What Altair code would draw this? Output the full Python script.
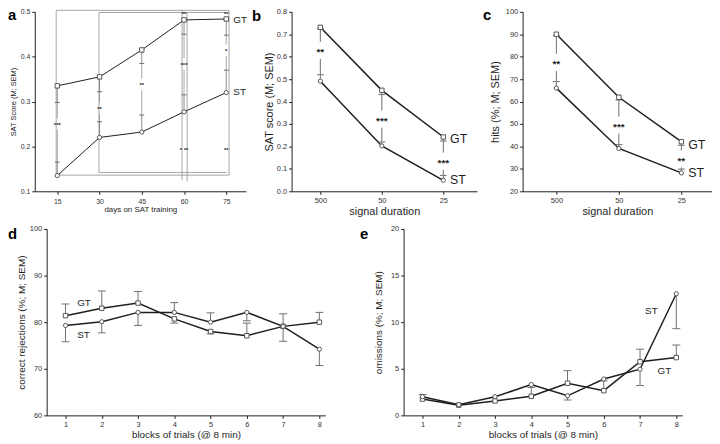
import altair as alt
import pandas as pd

FONT = "Liberation Sans"
INK = "#1e1e1e"
MARK = "#555555"
ERR = "#707070"
LIGHT = "#909090"

# ---------------- panel a : SAT score across training days ----------------
a_days = [15, 30, 45, 60, 75]
a_gt = [0.335, 0.355, 0.415, 0.482, 0.484]
a_st = [0.135, 0.220, 0.232, 0.277, 0.320]
a_gt_err = [0.298, 0.322, 0.385, 0.450, 0.448]
a_st_err = [0.165, 0.255, 0.270, 0.315, 0.370]
a_star_txt = ["***", "**", "**", "***", "*"]
a_star_y = [0.250, 0.285, 0.338, 0.384, 0.414]
a_extra_x = [60, 75, 60, 75]
a_extra_y = [0.497, 0.497, 0.194, 0.194]
a_extra_txt = ["**", "**", "* **", "**"]
# comparison bracket lines (x1, x2, y1, y2)
a_br_x1 = [14.6, 14.6, 14.6, 76.0, 29.8, 29.8, 29.8, 59.3, 61.1]
a_br_x2 = [14.6, 76.0, 76.0, 76.0, 29.8, 75.1, 75.1, 59.3, 61.1]
a_br_y1 = [0.136, 0.5033, 0.136, 0.136, 0.142, 0.4985, 0.142, 0.125, 0.122]
a_br_y2 = [0.5033, 0.5033, 0.136, 0.5033, 0.4985, 0.4985, 0.142, 0.5033, 0.4985]

# ---------------- panels b, c : signal duration ----------------
dur_labels = ["500", "50", "25"]
dur_pos = [0, 1, 2]
b_gt = [0.731, 0.450, 0.242]
b_st = [0.491, 0.202, 0.049]
b_gt_err = [0.725, 0.431, 0.224]
b_st_err = [0.520, 0.220, 0.071]
b_star_txt = ["**", "***", "***"]
b_star_y = [0.628, 0.322, 0.134]

c_gt = [90.0, 61.9, 42.1]
c_st = [66.0, 39.1, 28.2]
c_gt_err = [89.5, 60.7, 40.5]
c_st_err = [68.9, 40.8, 29.9]
c_star_txt = ["**", "***", "**"]
c_star_y = [77.5, 49.5, 34.4]

# ---------------- panels d, e : blocks of trials ----------------
blocks = [1, 2, 3, 4, 5, 6, 7, 8]
d_gt = [81.4, 83.0, 84.1, 80.7, 78.0, 77.1, 79.1, 80.0]
d_st = [79.3, 80.1, 82.1, 82.1, 80.0, 82.1, 79.1, 74.2]
d_gt_err = [83.9, 86.7, 86.6, 79.8, 77.5, 79.8, 81.8, 82.1]
d_st_err = [75.8, 77.7, 79.3, 84.2, 82.0, 80.3, 75.9, 70.7]

e_gt = [1.75, 1.10, 1.55, 2.05, 3.45, 2.65, 5.75, 6.20]
e_st = [2.00, 1.15, 2.00, 3.30, 2.10, 3.90, 4.95, 13.05]
e_gt_err = [1.75, 1.10, 1.55, 3.00, 4.80, 3.70, 7.10, 7.55]
e_st_err = [2.23, 1.15, 2.00, 3.30, 1.65, 3.90, 3.20, 9.30]


def axis(title, values, lab_fs, title_fs, tp, lp=2, fmt=None, label_expr=None):
    kw = dict(title=title, values=values, labelFont=FONT, labelFontSize=lab_fs,
              labelColor="#333333", titleFont=FONT, titleFontSize=title_fs,
              titleFontWeight="normal", titleColor=INK, titlePadding=tp,
              labelPadding=lp, tickSize=3, tickColor=INK, tickWidth=1,
              domainColor=INK, domainWidth=1, grid=False, labelFlush=False)
    if fmt:
        kw["format"] = fmt
    if label_expr:
        kw["labelExpr"] = label_expr
    return alt.Axis(**kw)


def panel(xv, gt, st, gt_err, st_err, X, Y, w, h, letter, ldx, ldy,
          star_txt=(), star_y=(), gap=0.0, extra=None, brackets=None,
          lab_x=0.0, lab_gt=0.0, lab_st=0.0, lab_fs=11, line_w=1.5,
          sq=36, ci=30, cap=7, star_fs=10, star_dy=2, conn=ERR, err_w=1.0):
    n = len(xv)
    pts = pd.DataFrame({"x": list(xv) * 2, "y": list(gt) + list(st),
                        "g": ["GT"] * n + ["ST"] * n})
    err = []
    for xi, a, b in zip(list(xv) * 2, list(gt) + list(st), list(gt_err) + list(st_err)):
        if a != b:
            err.append((xi, xi, a, b))
    conn_segs = []
    for i, sy in enumerate(star_y):
        conn_segs.append((xv[i], xv[i], gt_err[i], sy + gap))
        conn_segs.append((xv[i], xv[i], sy - gap, st_err[i]))
    if brackets:
        conn_segs += brackets
    cols = ["x", "x2", "y", "y2"]
    layers = []
    if conn_segs:
        layers.append(alt.Chart(pd.DataFrame(conn_segs, columns=cols))
                      .mark_rule(color=conn, strokeWidth=err_w)
                      .encode(x=X, x2="x2:Q", y=Y, y2="y2:Q"))
    layers.append(alt.Chart(pts).mark_line(color=INK, strokeWidth=line_w)
                  .encode(x=X, y=Y, detail="g:N"))
    if err:
        edf = pd.DataFrame(err, columns=cols)
        layers.append(alt.Chart(edf).mark_rule(color=ERR, strokeWidth=err_w)
                      .encode(x=X, x2="x2:Q", y=Y, y2="y2:Q"))
        cdf = pd.DataFrame({"x": edf["x"], "y": edf["y2"]})
        layers.append(alt.Chart(cdf).mark_tick(orient="horizontal", size=cap,
                                               thickness=1, color=ERR, opacity=1)
                      .encode(x=X, y=Y))
    layers.append(alt.Chart(pts).mark_point(filled=True, fill="white", stroke=MARK,
                                            strokeWidth=1, opacity=1, fillOpacity=1)
                  .encode(x=X, y=Y,
                          shape=alt.Shape("g:N", scale=alt.Scale(domain=["GT", "ST"], range=["square", "circle"]), legend=None),
                          size=alt.Size("g:O", scale=alt.Scale(domain=["GT", "ST"], range=[sq, ci]), legend=None)))
    stars = pd.DataFrame({"x": list(xv)[:len(star_y)], "y": list(star_y), "t": list(star_txt)})
    if extra is not None:
        stars = pd.concat([stars, extra], ignore_index=True)
    if len(stars):
        layers.append(alt.Chart(stars).mark_text(font=FONT, fontSize=star_fs, fontWeight="bold",
                                                 color=INK, fill=INK, baseline="middle", dy=star_dy)
                      .encode(x=X, y=Y, text="t:N"))
    labs = pd.DataFrame({"x": lab_x if isinstance(lab_x, list) else [lab_x, lab_x],
                         "y": [lab_gt, lab_st], "t": ["GT", "ST"]})
    layers.append(alt.Chart(labs).mark_text(font=FONT, fontSize=lab_fs, color=INK,
                                            align="left", baseline="middle")
                  .encode(x=X, y=Y, text="t:N"))
    title = alt.TitleParams(letter, anchor="start", frame="group", orient="top",
                            fontSize=15, fontWeight="bold", font=FONT, color="#000000",
                            dx=ldx, dy=ldy, offset=0, baseline="alphabetic")
    return alt.layer(*layers).properties(width=w, height=h, title=title)


TOP_H = 181
BOT_H = 188

# ---- a
Xa = alt.X("x:Q", scale=alt.Scale(domain=[7, 82], nice=False, zero=False),
           axis=axis("days on SAT training", a_days, 7, 8, 1, lp=3))
Ya = alt.Y("y:Q", scale=alt.Scale(domain=[0.1, 0.5], nice=False, zero=False),
           axis=axis("SAT Score (M; SEM)", [0.1, 0.2, 0.3, 0.4, 0.5], 7, 7.5, 3, fmt=".1f"))
a_extra = pd.DataFrame({"x": a_extra_x, "y": a_extra_y, "t": a_extra_txt})
a_br = list(zip(a_br_x1, a_br_x2, a_br_y1, a_br_y2))
pa = panel(a_days, a_gt, a_st, a_gt_err, a_st_err, Xa, Ya, 213, TOP_H, "a", -27, 27,
           star_txt=a_star_txt, star_y=a_star_y, gap=0.013, extra=a_extra, brackets=a_br,
           lab_x=77.5, lab_gt=0.4824, lab_st=0.322, lab_fs=10, line_w=1.0, sq=20, ci=18,
           cap=5, star_fs=6, star_dy=1, conn=LIGHT, err_w=0.8)

dur_expr = "[" + ",".join("'" + s + "'" for s in dur_labels) + "][datum.value]"

# ---- b
Xb = alt.X("x:Q", scale=alt.Scale(domain=[-0.468, 2.548], nice=False, zero=False),
           axis=axis("signal duration", dur_pos, 7.5, 11, 2.3, label_expr=dur_expr))
Yb = alt.Y("y:Q", scale=alt.Scale(domain=[0, 0.8], nice=False),
           axis=axis("SAT score (M; SEM)", [0, 0.1, 0.2, 0.3, 0.4, 0.5, 0.6, 0.7, 0.8], 7.5, 11, 2, fmt=".1f"))
pb = panel(dur_pos, b_gt, b_st, b_gt_err, b_st_err, Xb, Yb, 187, TOP_H, "b", -40, 28,
           star_txt=b_star_txt, star_y=b_star_y, gap=0.038,
           lab_x=2.11, lab_gt=0.235, lab_st=0.049, lab_fs=12.5)

# ---- c
Xc = alt.X("x:Q", scale=alt.Scale(domain=[-0.54, 2.49], nice=False, zero=False),
           axis=axis("signal duration", dur_pos, 7.5, 11, 2.3, label_expr=dur_expr))
Yc = alt.Y("y:Q", scale=alt.Scale(domain=[20, 100], nice=False, zero=False),
           axis=axis("hits (%; M; SEM)", [20, 30, 40, 50, 60, 70, 80, 90, 100], 7.5, 11, 5))
pc = panel(dur_pos, c_gt, c_st, c_gt_err, c_st_err, Xc, Yc, 191, TOP_H, "c", -40, 27,
           star_txt=c_star_txt, star_y=c_star_y, gap=3.8,
           lab_x=2.11, lab_gt=40.6, lab_st=28.1, lab_fs=12.5)

# ---- d
Xd = alt.X("x:Q", scale=alt.Scale(domain=[0.48, 8.164], nice=False, zero=False),
           axis=axis("blocks of trials (@ 8 min)", blocks, 7.5, 10, 2.2))
Yd = alt.Y("y:Q", scale=alt.Scale(domain=[60, 100], nice=False, zero=False),
           axis=axis("correct rejections (%; M; SEM)", [60, 70, 80, 90, 100], 7.5, 10, 2.5))
pd_ = panel(blocks, d_gt, d_st, d_gt_err, d_st_err, Xd, Yd, 281, BOT_H, "d", -39, 29,
            lab_x=1.32, lab_gt=84.1, lab_st=77.3, lab_fs=10, cap=8)

# ---- e
Xe = alt.X("x:Q", scale=alt.Scale(domain=[0.48, 8.164], nice=False, zero=False),
           axis=axis("blocks of trials (@ 8 min)", blocks, 7.5, 10, 2.2))
Ye = alt.Y("y:Q", scale=alt.Scale(domain=[0, 20], nice=False),
           axis=axis("omissions (%; M; SEM)", [0, 5, 10, 15, 20], 7.5, 10, 6.7))
pe = panel(blocks, e_gt, e_st, e_gt_err, e_st_err, Xe, Ye, 281, BOT_H, "e", -44, 29,
           lab_x=[7.48, 7.14], lab_gt=4.8, lab_st=11.2, lab_fs=10, cap=8)

spacer = (alt.Chart(pd.DataFrame({"v": []})).mark_point(opacity=0)
          .encode(x=alt.X("v:Q", axis=None), y=alt.Y("v:Q", axis=None))
          .properties(width=12, height=BOT_H))

top = alt.hconcat(pa, pb, pc, spacing=46, bounds="flush")
bottom = alt.hconcat(spacer, alt.hconcat(pd_, pe, spacing=79, bounds="flush"),
                     spacing=0, bounds="flush")
chart = (alt.vconcat(top, bottom, spacing=8)
         .properties(padding={"top": -2, "left": 0, "right": 0, "bottom": 0})
         .configure(background="white")
         .configure_view(stroke=None))

chart.save("out.html", embed_options={"renderer": "svg", "actions": False})
